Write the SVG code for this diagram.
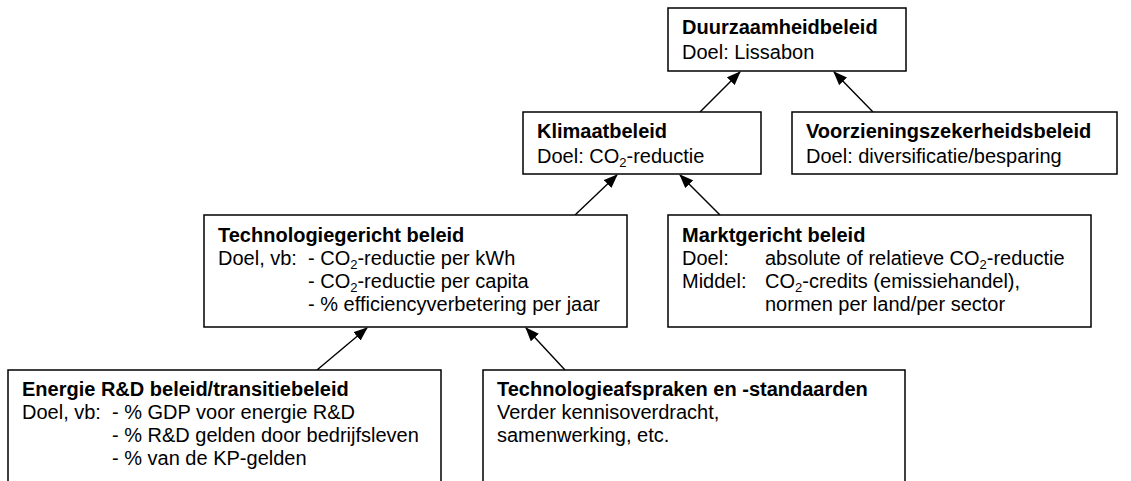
<svg xmlns="http://www.w3.org/2000/svg" width="1131" height="481" viewBox="0 0 1131 481">
<style>
rect.box{fill:#fff;stroke:#000;stroke-width:1.5}
text{font-family:"Liberation Sans",Arial,sans-serif;font-size:20px;fill:#000}
.b{font-weight:bold}
.sub{font-size:13px}
line.c{stroke:#000;stroke-width:1.4}
</style>
<defs>
<marker id="ah" viewBox="0 0 14 11" refX="13" refY="5.5" markerWidth="14" markerHeight="11" markerUnits="userSpaceOnUse" orient="auto">
<path d="M0,0 L14,5.5 L0,11 Z" fill="#000"/>
</marker>
</defs>
<rect width="1131" height="481" fill="#fff"/>
<g id="connectors">
<line class="c" x1="700" y1="112" x2="740" y2="72" marker-end="url(#ah)"/>
<line class="c" x1="873" y1="112" x2="834" y2="72" marker-end="url(#ah)"/>
<line class="c" x1="575" y1="215" x2="617" y2="175" marker-end="url(#ah)"/>
<line class="c" x1="720" y1="215" x2="680" y2="175" marker-end="url(#ah)"/>
<line class="c" x1="317" y1="370" x2="367" y2="328" marker-end="url(#ah)"/>
<line class="c" x1="565" y1="370" x2="526" y2="328" marker-end="url(#ah)"/>
</g>
<g id="duurzaamheid">
<rect class="box" x="668" y="8" width="238" height="63"/>
<text class="b" x="682" y="34">Duurzaamheidbeleid</text>
<text x="682" y="59">Doel: Lissabon</text>
</g>
<g id="klimaat">
<rect class="box" x="523" y="112" width="238" height="62"/>
<text class="b" x="537" y="138">Klimaatbeleid</text>
<text x="537" y="163">Doel: CO<tspan class="sub" dy="4">2</tspan><tspan dy="-4">-reductie</tspan></text>
</g>
<g id="voorziening">
<rect class="box" x="792" y="112" width="325" height="62"/>
<text class="b" x="806" y="138">Voorzieningszekerheidsbeleid</text>
<text x="806" y="163">Doel: diversificatie/besparing</text>
</g>
<g id="technologie">
<rect class="box" x="204" y="215" width="423" height="112"/>
<text class="b" x="218" y="242">Technologiegericht beleid</text>
<text x="218" y="265">Doel, vb:</text>
<text x="308" y="265">- CO<tspan class="sub" dy="4">2</tspan><tspan dy="-4">-reductie per kWh</tspan></text>
<text x="308" y="288">- CO<tspan class="sub" dy="4">2</tspan><tspan dy="-4">-reductie per capita</tspan></text>
<text x="308" y="311">- % efficiencyverbetering per jaar</text>
</g>
<g id="markt">
<rect class="box" x="668" y="215" width="423" height="112"/>
<text class="b" x="682" y="242">Marktgericht beleid</text>
<text x="682" y="265">Doel:</text>
<text x="765" y="265">absolute of relatieve CO<tspan class="sub" dy="4">2</tspan><tspan dy="-4">-reductie</tspan></text>
<text x="682" y="288">Middel:</text>
<text x="765" y="288">CO<tspan class="sub" dy="4">2</tspan><tspan dy="-4">-credits (emissiehandel),</tspan></text>
<text x="765" y="311">normen per land/per sector</text>
</g>
<g id="energie">
<rect class="box" x="8" y="370" width="433" height="130"/>
<text class="b" x="22" y="396">Energie R&amp;D beleid/transitiebeleid</text>
<text x="22" y="419">Doel, vb:</text>
<text x="112" y="419">- % GDP voor energie R&amp;D</text>
<text x="112" y="442">- % R&amp;D gelden door bedrijfsleven</text>
<text x="112" y="465">- % van de KP-gelden</text>
</g>
<g id="afspraken">
<rect class="box" x="483" y="370" width="422" height="130"/>
<text class="b" x="497" y="396">Technologieafspraken en -standaarden</text>
<text x="497" y="419">Verder kennisoverdracht,</text>
<text x="497" y="442">samenwerking, etc.</text>
</g>
</svg>
